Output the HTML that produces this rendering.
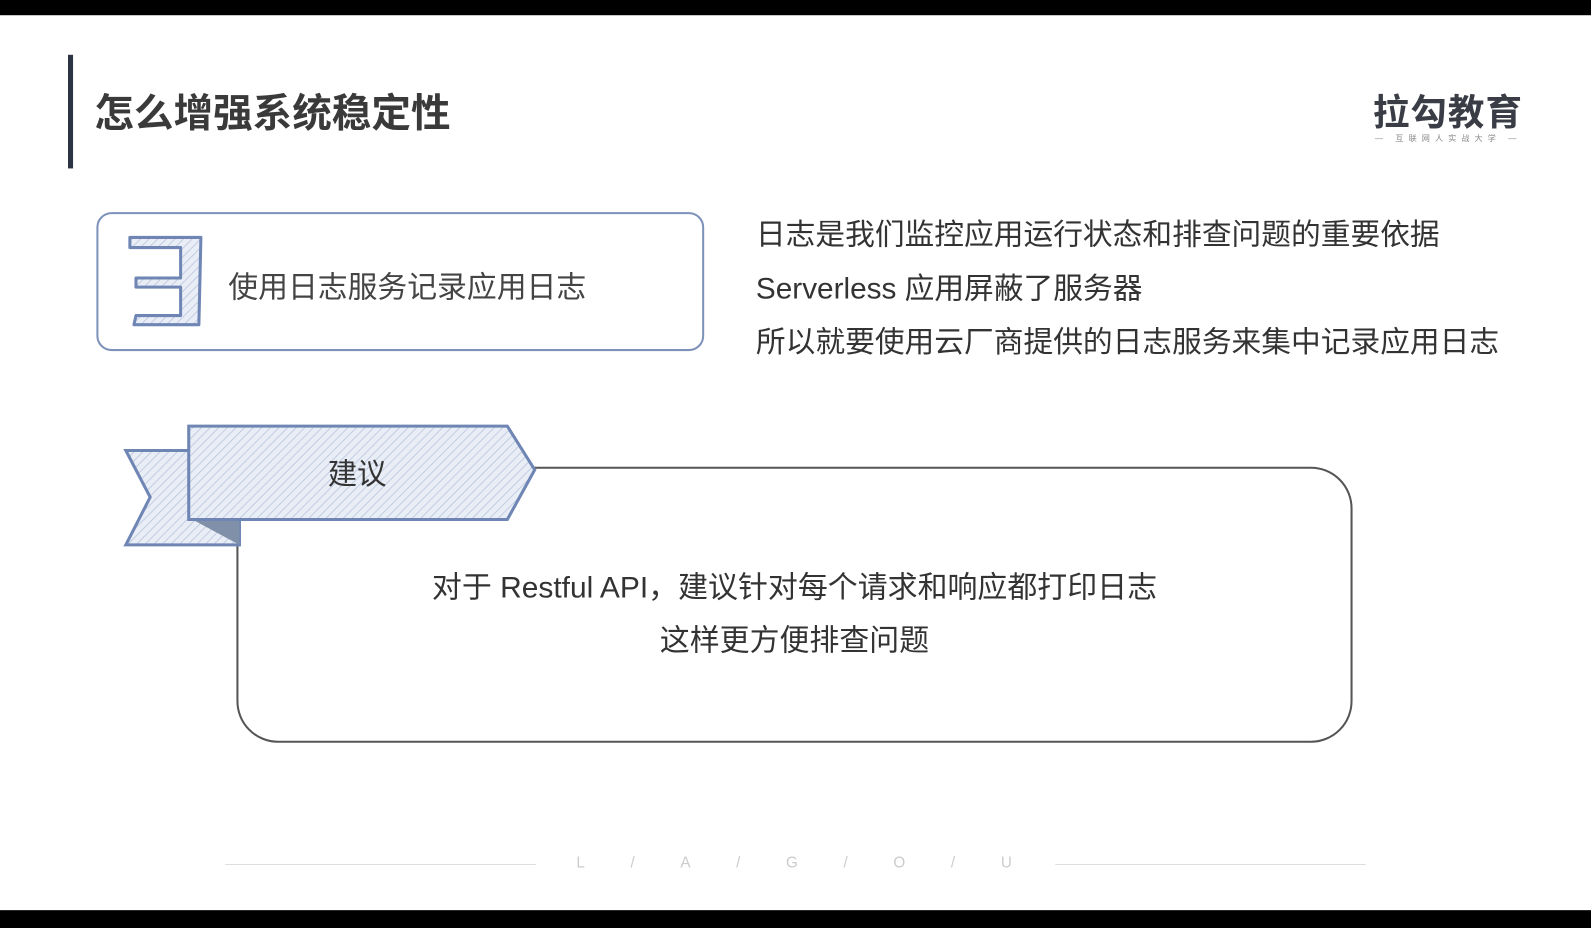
<!DOCTYPE html>
<html><head><meta charset="utf-8"><style>
html,body{margin:0;padding:0;background:#fff;width:1591px;height:928px;overflow:hidden}
#w{position:absolute;left:0;top:0;width:1568px;height:915px;transform:scale(1.01467);transform-origin:0 0;background:#fff;font-family:"Liberation Sans","Noto Sans CJK SC",sans-serif;color:#333}
.t{position:absolute;white-space:nowrap}
</style></head><body><div id="w">
<div style="position:absolute;left:0;top:0;width:1568px;height:15px;background:#000"></div>
<div style="position:absolute;left:0;top:897px;width:1568px;height:18px;background:#000"></div>
<div style="position:absolute;left:67px;top:54px;width:5px;height:112px;background:#2c3444"></div>
<div class="t" style="left:93px;top:81px;font-size:39px;font-weight:bold;color:#3a3a3a">怎么增强系统稳定性</div>
<div class="t" style="left:1353px;top:82px;font-size:36px;font-weight:bold;color:#3a3d45;letter-spacing:1px">拉勾教育</div>
<div class="t" style="left:1355px;top:131px;font-size:8px;color:#888;letter-spacing:5px">— 互联网人实战大学 —</div>
<svg style="position:absolute;left:0;top:0" width="1568" height="915">
<defs><pattern id="h" width="6" height="6" patternUnits="userSpaceOnUse" patternTransform="rotate(45)"><rect width="6" height="6" fill="#e8edf6"/><line x1="0" y1="0" x2="0" y2="6" stroke="#b7c4dc" stroke-width="1.5"/></pattern></defs>
<rect x="96" y="210" width="597" height="135" rx="14" fill="none" stroke="#7d92bb" stroke-width="2"/>
<path d="M128 234 L198 234 L196 320 L132 320 L134 311 L178 311 L178 283 L134 283 L134 274 L178 274 L178 244 L128 244 Z" fill="url(#h)" stroke="#6f86b5" stroke-width="3" stroke-linejoin="round"/>
<rect x="234" y="461" width="1098" height="270" rx="40" fill="none" stroke="#555" stroke-width="2"/>
<polygon points="124,444 236,444 236,537 124,537 148,490" fill="url(#h)" stroke="#6f86b5" stroke-width="3"/>
<polygon points="186,510 236,510 236,537" fill="#8090a8"/>
<polygon points="186,420 500,420 527,463 500,512 186,512" fill="url(#h)" stroke="#6f86b5" stroke-width="3"/>
<line x1="222" y1="852" x2="528" y2="852" stroke="#ddd"/>
<line x1="1040" y1="852" x2="1346" y2="852" stroke="#ddd"/>
</svg>
<div class="t" style="left:225px;top:260px;font-size:29.4px;color:#444">使用日志服务记录应用日志</div>
<div class="t" style="left:745px;top:208px;font-size:29.3px;color:#333">日志是我们监控应用运行状态和排查问题的重要依据</div>
<div class="t" style="left:745px;top:261px;font-size:29.3px;color:#333">Serverless 应用屏蔽了服务器</div>
<div class="t" style="left:745px;top:314px;font-size:29.3px;color:#333">所以就要使用云厂商提供的日志服务来集中记录应用日志</div>
<div class="t" style="left:323px;top:444px;font-size:29px;color:#333">建议</div>
<div class="t" style="left:234px;top:556px;width:1098px;text-align:center;font-size:29.5px;color:#333">对于 Restful API，建议针对每个请求和响应都打印日志</div>
<div class="t" style="left:234px;top:608px;width:1098px;text-align:center;font-size:29.5px;color:#333">这样更方便排查问题</div>
<div class="t" style="left:568px;top:842px;font-size:15px;color:#ccc;letter-spacing:45px">L/A/G/O/U</div>
</div></body></html>
